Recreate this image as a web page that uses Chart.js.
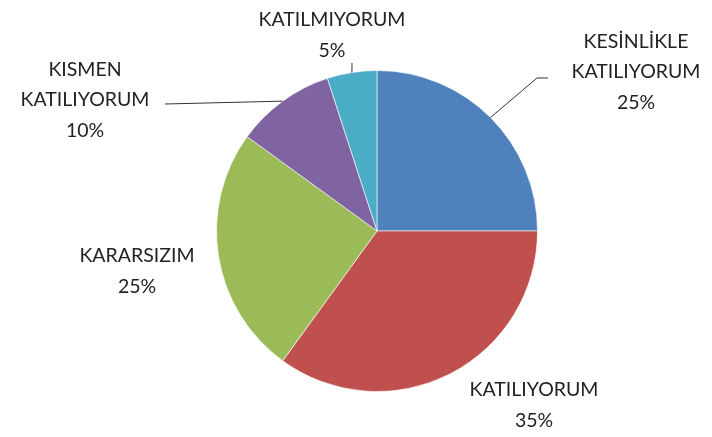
<!DOCTYPE html>
<html>
<head>
<meta charset="utf-8">
<script src="https://cdn.jsdelivr.net/npm/chart.js@4/dist/chart.umd.min.js"></script>
<style>
  html, body { margin: 0; padding: 0; background: #fff; }
  #wrap { width: 712px; height: 437px; }
</style>
</head>
<body>
<div id="wrap"><canvas id="pie" width="712" height="437"></canvas></div>
<script>
// ================================
// Datos
// ================================
const categories = ["KESİNLİKLE KATILIYORUM", "KATILIYORUM", "KARARSIZIM", "KISMEN KATILIYORUM", "KATILMIYORUM"];
const labelLines = [["KESİNLİKLE", "KATILIYORUM"], ["KATILIYORUM"], ["KARARSIZIM"], ["KISMEN", "KATILIYORUM"], ["KATILMIYORUM"]];
const percents = [25, 35, 25, 10, 5];
const colors = ["#4F81BD", "#C0504D", "#9BBB59", "#8064A2", "#4BACC6"];

// posiciones de etiquetas (centro del bloque, relativo al centro del pastel)
const labelOffsets = [[259, -159], [157, 174], [-240, 40], [-292, -131], [-45, -196]];
// codo de las líneas guía (null = sin línea)
const leaderPoints = [[[160, -153], [171, -153]], null, null, [[-212, -127]], [[-25, -168]]];

// ================================
// Plugin de etiquetas externas
// ================================
const outerLabels = {
  id: "outerLabels",
  afterDatasetsDraw(chart) {
    const ctx = chart.ctx;
    const arcs = chart.getDatasetMeta(0).data;
    ctx.save();
    arcs.forEach((arc, i) => {
      const { x, y, startAngle, endAngle, outerRadius } = arc.getProps(["x", "y", "startAngle", "endAngle", "outerRadius"], true);
      const mid = (startAngle + endAngle) / 2;

      // línea guía
      const pts = leaderPoints[i];
      if (pts) {
        ctx.strokeStyle = "#333";
        ctx.lineWidth = 1;
        ctx.beginPath();
        ctx.moveTo(x + Math.cos(mid) * outerRadius, y + Math.sin(mid) * outerRadius);
        pts.forEach(p => ctx.lineTo(x + p[0], y + p[1]));
        ctx.stroke();
      }

      // texto
      const lines = labelLines[i].concat([percents[i] + "%"]);
      const lh = 30.5;
      const cx = x + labelOffsets[i][0];
      const cy = y + labelOffsets[i][1] - (lines.length - 1) * lh / 2;
      ctx.fillStyle = "#222";
      ctx.font = "19.5px Lato";
      ctx.textAlign = "center";
      ctx.textBaseline = "middle";
      lines.forEach((t, k) => ctx.fillText(t, cx, cy + k * lh));
    });
    ctx.restore();
  }
};

new Chart(document.getElementById("pie"), {
  type: "pie",
  data: {
    labels: categories,
    datasets: [{
      data: percents,
      backgroundColor: colors,
      borderColor: "rgba(255,255,255,0.6)",
      borderWidth: 1
    }]
  },
  options: {
    responsive: false,
    animation: false,
    layout: { padding: { top: 70, bottom: 45, left: 216, right: 174 } },
    plugins: {
      legend: { display: false },
      tooltip: { enabled: false }
    }
  },
  plugins: [outerLabels]
});
</script>
</body>
</html>
